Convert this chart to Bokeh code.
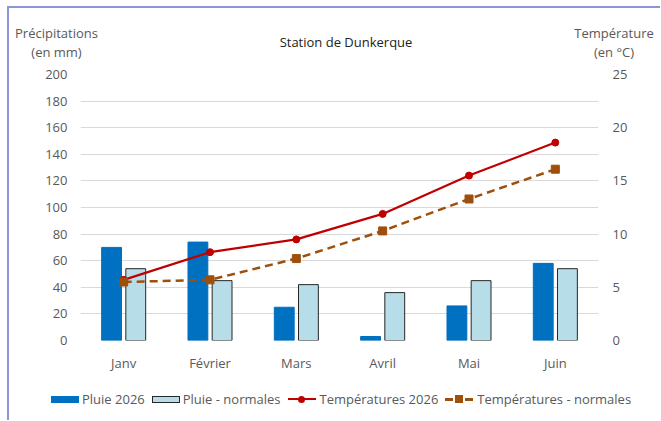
from bokeh.plotting import figure
from bokeh.models import (ColumnDataSource, Range1d, LinearAxis, FixedTicker,
                          FactorRange, Div)
from bokeh.layouts import column
from bokeh.transform import dodge
from bokeh.embed import file_html
from bokeh.resources import INLINE

months = ["Janv", "Février", "Mars", "Avril", "Mai", "Juin"]
pluie_2026 = [70, 74, 25, 3, 26, 58]
pluie_normales = [54, 45, 42, 36, 45, 54]
temp_2026 = [5.7, 8.3, 9.5, 11.9, 15.5, 18.6]
temp_normales = [5.5, 5.7, 7.7, 10.3, 13.3, 16.1]
left_ticks = [0, 20, 40, 60, 80, 100, 120, 140, 160, 180, 200]
right_ticks = [0, 5, 10, 15, 20, 25]

title = "Station de Dunkerque"
left_title = ["Précipitations", "(en mm)"]
right_title = ["Température", "(en °C)"]
series = ["Pluie 2026", "Pluie - normales", "Températures 2026", "Températures - normales"]

FONT = "Open Sans"
GREY = "#595959"
BORDER = "#8b95db"
BLUE = "#0070C0"
LIGHT = "#B7DDE8"
RED = "#C00000"
BROWN = "#9E4F0C"
W = 660

# ---------- header (titles) ----------
head_html = f"""
<div style="position:relative;width:{W}px;height:66px;font-family:'{FONT}';font-size:13px;color:{GREY};line-height:19px;">
  <div style="position:absolute;left:7px;top:6px;width:{W - 7}px;height:60px;border-top:2px solid {BORDER};border-left:2px solid {BORDER};box-sizing:border-box;"></div>
  <div style="position:absolute;left:0px;width:113px;top:24px;text-align:center;white-space:nowrap;">{left_title[0]}<br>{left_title[1]}</div>
  <div style="position:absolute;left:246px;width:200px;top:33px;text-align:center;white-space:nowrap;color:#222222;">{title}</div>
  <div style="position:absolute;left:568px;width:92px;top:24px;text-align:center;white-space:nowrap;">{right_title[0]}<br>{right_title[1]}</div>
</div>
"""
head = Div(text=head_html, width=W, height=66, margin=0)

# ---------- main chart ----------
src = ColumnDataSource(dict(month=months, p26=pluie_2026, pn=pluie_normales,
                            t26=temp_2026, tn=temp_normales))

p = figure(x_range=FactorRange(*months), y_range=Range1d(0, 200),
           width=W, height=314, output_backend="svg", toolbar_location=None,
           min_border_left=80, min_border_right=62, min_border_top=8,
           min_border_bottom=40, margin=0)
p.outline_line_color = None
p.border_fill_alpha = 0
p.background_fill_alpha = 0
p.styles = {"background": f"linear-gradient(to right, transparent 7px, {BORDER} 7px, {BORDER} 9px, transparent 9px)"}
p.extra_y_ranges = {"temp": Range1d(0, 25)}

p.vbar(x=dodge("month", -0.14, range=p.x_range), top="p26", width=0.23,
       source=src, fill_color=BLUE, line_color=BLUE, line_width=1)
p.vbar(x=dodge("month", 0.14, range=p.x_range), top="pn", width=0.23,
       source=src, fill_color=LIGHT, line_color="#262626", line_width=1)

p.line(x="month", y="t26", source=src, y_range_name="temp",
       line_color=RED, line_width=2.2)
p.scatter(x="month", y="t26", source=src, y_range_name="temp",
          marker="circle", size=7, fill_color=RED, line_color=RED)
p.line(x="month", y="tn", source=src, y_range_name="temp",
       line_color=BROWN, line_width=2.5, line_dash="8 5")
p.scatter(x="month", y="tn", source=src, y_range_name="temp",
          marker="square", size=8, fill_color=BROWN, line_color=BROWN)

ya = p.yaxis[0]
ya.ticker = FixedTicker(ticks=left_ticks)
ra = LinearAxis(y_range_name="temp", ticker=FixedTicker(ticks=right_ticks))
p.add_layout(ra, "right")
xa = p.xaxis[0]
for ax in (ya, ra, xa):
    ax.axis_line_color = None
    ax.major_tick_line_color = None
    ax.minor_tick_line_color = None
    ax.major_label_text_font = FONT
    ax.major_label_text_font_size = "13px"
    ax.major_label_text_color = GREY
ya.major_label_standoff = 7
ra.major_label_standoff = 8
xa.major_label_standoff = 7

p.xgrid.grid_line_color = None
p.ygrid.grid_line_color = "#D9D9D9"
p.ygrid.grid_line_width = 1

# ---------- legend (footer) ----------
def icon_rect(fill, border):
    return (f'<span style="display:inline-block;width:28px;height:7px;background:{fill};'
            f'border:{border};box-sizing:border-box;margin-right:3px;"></span>')

def icon_line(color, marker_css, dashed):
    if dashed:
        inner = (f'<span style="position:absolute;left:0;top:4px;width:8px;height:3px;background:{color};"></span>'
                 f'<span style="position:absolute;right:0;top:4px;width:8px;height:3px;background:{color};"></span>')
    else:
        inner = f'<span style="position:absolute;left:0;top:4px;width:28px;height:2px;background:{color};"></span>'
    return (f'<span style="display:inline-block;position:relative;width:28px;height:10px;margin-right:4px;">'
            f'{inner}<span style="position:absolute;{marker_css}background:{color};"></span></span>')

items = [
    icon_rect(BLUE, "none"),
    icon_rect(LIGHT, "1.5px solid #262626"),
    icon_line(RED, "left:10.5px;top:1.5px;width:7px;height:7px;border-radius:50%;", False),
    icon_line(BROWN, "left:10px;top:1px;width:8px;height:8px;", True),
]
legend_parts = "".join(
    f'<span style="display:inline-flex;align-items:center;margin-right:7px;">{ic}<span>{lbl}</span></span>'
    for ic, lbl in zip(items, series))
foot_html = f"""
<div style="position:relative;width:{W}px;height:40px;font-family:'{FONT}';font-size:13px;color:{GREY};">
  <div style="position:absolute;left:7px;top:0;width:2px;height:40px;background:{BORDER};"></div>
  <div style="position:absolute;left:51px;top:10px;height:18px;line-height:18px;white-space:nowrap;display:flex;align-items:center;">{legend_parts}</div>
</div>
"""
foot = Div(text=foot_html, width=W, height=40, margin=0)

layout = column(head, p, foot, spacing=0)

open("out.html", "w").write(file_html(layout, INLINE))
